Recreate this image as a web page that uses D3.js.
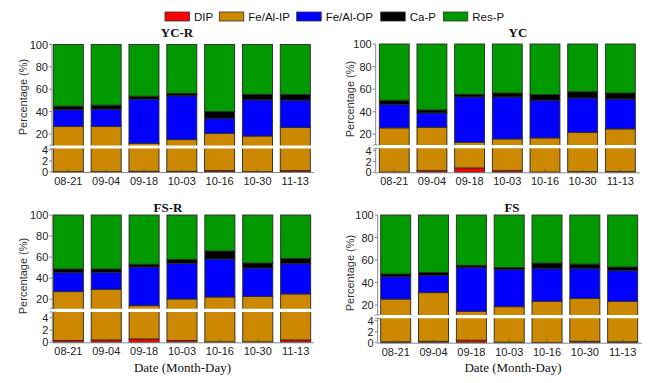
<!DOCTYPE html>
<html><head><meta charset="utf-8">
<script src="https://cdn.jsdelivr.net/npm/d3@7"></script>
<style>body{margin:0;background:#fff}svg{display:block}</style>
</head><body>
<svg id="c" width="659" height="383"></svg>
<script>
// ---------------- DATA ----------------
const dates = ["08-21","09-04","09-18","10-03","10-16","10-30","11-13"];
const seriesNames = ["DIP","Fe/Al-IP","Fe/Al-OP","Ca-P","Res-P"];
const panelNames = ["YC-R","YC","FS-R","FS"];
const upperTicks = [20,40,60,80,100];
const lowerTicks = [0,2,4];

// percentages per fraction, one array per panel and series
const dipYCR   = [0.05, 0.05, 0.12, 0.12, 0.25, 0.05, 0.25];
const feIpYCR  = [26.75, 26.75, 11.58, 14.88, 20.35, 18.15, 25.65];
const feOpYCR  = [14.8, 15.4, 39.4, 39.1, 13.3, 32.3, 24.3];
const caYCR    = [3.3, 3.6, 2.7, 2.3, 6.2, 5.1, 5.1];
const resYCR   = [55.1, 54.2, 46.2, 43.6, 59.9, 44.4, 44.7];

const dipYC    = [0.05, 0.3, 0.8, 0.3, 0.05, 0.12, 0.12];
const feIpYC   = [25.65, 26.0, 12.2, 15.6, 16.75, 21.68, 24.68];
const feOpYC   = [20.6, 12.6, 40.1, 37.2, 33.1, 30.4, 26.5];
const caYC     = [3.8, 2.7, 2.4, 3.5, 5.3, 5.6, 5.3];
const resYC    = [49.9, 58.4, 44.5, 43.4, 44.8, 42.2, 43.4];

const dipFSR   = [0.3, 0.38, 0.55, 0.3, 0.08, 0.08, 0.38];
const feIpFSR  = [27.0, 29.12, 13.45, 20.0, 22.12, 22.72, 24.72];
const feOpFSR  = [18.0, 16.1, 36.7, 33.9, 36.1, 26.9, 28.7];
const caFSR    = [3.5, 3.2, 2.5, 3.5, 7.6, 4.8, 5.1];
const resFSR   = [51.2, 51.2, 46.8, 42.3, 34.1, 45.5, 41.1];

const dipFS    = [0.15, 0.25, 0.45, 0.1, 0.05, 0.25, 0.15];
const feIpFS   = [25.15, 30.75, 13.95, 18.4, 23.25, 25.65, 23.15];
const feOpFS   = [19.9, 15.4, 38.8, 32.9, 29.0, 26.4, 27.2];
const caFS     = [2.4, 2.6, 2.1, 1.9, 5.0, 4.1, 3.3];
const resFS    = [52.4, 51.0, 44.7, 46.7, 42.7, 43.6, 46.2];

const panelSeries = {
  "YC-R": [dipYCR, feIpYCR, feOpYCR, caYCR, resYCR],
  "YC":   [dipYC, feIpYC, feOpYC, caYC, resYC],
  "FS-R": [dipFSR, feIpFSR, feOpFSR, caFSR, resFSR],
  "FS":   [dipFS, feIpFS, feOpFS, caFS, resFS]
};

// ---------------- STYLE / LAYOUT ----------------
const colors = ["#ff0000","#cc8800","#0000ff","#000000","#009900"];
const layout = {
  "YC-R": {axisX:52, barStart:53.3, barEnd:310.3, xEnd:314, y100:44.5, y20:134, breakY:147, y4:150, y0:172, titleX:177, titleY:37, ylabX:23, ylabY:97, tickY:185},
  "YC":   {axisX:375.7, barStart:379.3, barEnd:635.3, xEnd:640, y100:44, y20:134.3, breakY:146.7, y4:150.7, y0:172.3, titleX:518, titleY:37, ylabX:350, ylabY:99, tickY:185},
  "FS-R": {axisX:52.3, barStart:53.3, barEnd:310.7, xEnd:314, y100:215, y20:299.3, breakY:310.3, y4:317.7, y0:342.3, titleX:168, titleY:211.5, ylabX:23, ylabY:276, tickY:355},
  "FS":   {axisX:377.7, barStart:380.7, barEnd:637.7, xEnd:642, y100:215, y20:305, breakY:316.7, y4:320.7, y0:342.7, titleX:512, titleY:211.5, ylabX:350, ylabY:273, tickY:356}
};
const sans = "'Liberation Sans', Arial, sans-serif";
const serif = "'Liberation Serif', 'Times New Roman', serif";

const svg = d3.select("#c");

// ---------------- LEGEND ----------------
const legendX = [165, 219.3, 296.7, 380.7, 443.3];
const lg = svg.append("g");
seriesNames.forEach((n,i)=>{
  lg.append("rect").attr("x",legendX[i]).attr("y",12).attr("width",24.5).attr("height",9)
    .attr("fill",colors[i]).attr("stroke","#333").attr("stroke-width",0.8);
  lg.append("text").attr("x",legendX[i]+29).attr("y",20.5).text(n)
    .attr("font-family",sans).attr("font-size",11.5).attr("fill","#111");
});

// ---------------- PANELS ----------------
panelNames.forEach((pn, pi)=>{
  const L = layout[pn];
  const arrs = panelSeries[pn];
  const rows = dates.map((d,i)=>{
    const r = {date:d};
    seriesNames.forEach((s,k)=> r[s] = arrs[k][i]);
    return r;
  });
  const stacked = d3.stack().keys(seriesNames)(rows);

  const x = d3.scaleBand().domain(dates).range([L.barStart, L.barEnd]).paddingInner(0.206).paddingOuter(0);
  const yU = d3.scaleLinear().domain([20,100]).range([L.y20, L.y100]);
  const yL = d3.scaleLinear().domain([0,4]).range([L.y0, L.y4]);

  const g = svg.append("g");
  const gap = 1.6;
  const clipU = "clipU"+pi, clipL = "clipL"+pi;
  const defs = svg.append("defs");
  defs.append("clipPath").attr("id",clipU).append("rect")
    .attr("x",0).attr("y",L.y100-2).attr("width",659).attr("height",L.breakY-gap-(L.y100-2));
  defs.append("clipPath").attr("id",clipL).append("rect")
    .attr("x",0).attr("y",L.breakY+gap).attr("width",659).attr("height",L.y0+1-(L.breakY+gap));

  [[yU,clipU],[yL,clipL]].forEach(([ys,cid])=>{
    const gg = g.append("g").attr("clip-path",`url(#${cid})`);
    stacked.forEach((layer,k)=>{
      gg.selectAll(null).data(layer).enter().append("rect")
        .attr("x", d=>x(d.data.date))
        .attr("width", x.bandwidth())
        .attr("y", d=>ys(d[1]))
        .attr("height", d=>Math.max(0, ys(d[0])-ys(d[1])))
        .attr("fill", colors[k])
        .attr("stroke","#2a2a2a").attr("stroke-width",0.9);
    });
  });

  // y axes
  const axisCol = "#888";
  const ax = g.append("g");
  ax.append("line").attr("x1",L.axisX).attr("x2",L.axisX).attr("y1",L.y100).attr("y2",L.breakY-gap)
    .attr("stroke",axisCol).attr("stroke-width",1);
  ax.append("line").attr("x1",L.axisX).attr("x2",L.axisX).attr("y1",L.breakY+gap).attr("y2",L.y0)
    .attr("stroke",axisCol).attr("stroke-width",1);
  // break marks
  [-1.8, 1.8].forEach(o=>{
    ax.append("path").attr("d",`M${L.axisX-3},${L.breakY+o+1} q1.5,-2.5 3,-1 t3,-1`)
      .attr("fill","none").attr("stroke","#777").attr("stroke-width",0.8);
  });
  upperTicks.forEach(t=>{
    ax.append("line").attr("x1",L.axisX-3).attr("x2",L.axisX).attr("y1",yU(t)).attr("y2",yU(t)).attr("stroke",axisCol);
    ax.append("text").attr("x",L.axisX-4).attr("y",yU(t)+4).attr("text-anchor","end")
      .attr("font-family",sans).attr("font-size",11).attr("fill","#222").text(t);
  });
  lowerTicks.forEach(t=>{
    ax.append("line").attr("x1",L.axisX-3).attr("x2",L.axisX).attr("y1",yL(t)).attr("y2",yL(t)).attr("stroke",axisCol);
    ax.append("text").attr("x",L.axisX-4).attr("y",yL(t)+4).attr("text-anchor","end")
      .attr("font-family",sans).attr("font-size",11).attr("fill","#222").text(t);
  });

  // x axis
  ax.append("line").attr("x1",L.axisX).attr("x2",L.xEnd).attr("y1",L.y0+0.5).attr("y2",L.y0+0.5)
    .attr("stroke",axisCol).attr("stroke-width",1);
  dates.forEach(d=>{
    const cx = x(d)+x.bandwidth()/2;
    ax.append("line").attr("x1",cx).attr("x2",cx).attr("y1",L.y0).attr("y2",L.y0-3).attr("stroke","#555").attr("stroke-width",0.8);
    ax.append("text").attr("x",cx).attr("y",L.tickY).attr("text-anchor","middle")
      .attr("font-family",sans).attr("font-size",11).attr("fill","#222").text(d);
  });

  // title
  g.append("text").attr("x",L.titleX).attr("y",L.titleY).attr("text-anchor","middle")
    .attr("font-family",serif).attr("font-weight","bold").attr("font-size",13).attr("fill","#111").text(pn);
  // y label
  g.append("text").attr("transform",`translate(${L.ylabX+4},${L.ylabY}) rotate(-90)`)
    .attr("text-anchor","middle").attr("font-family",sans).attr("font-size",11).attr("fill","#333")
    .text("Percentage (%)");
  // x label (bottom row)
  if (pi >= 2) {
    g.append("text").attr("x", pi===2 ? 182.5 : 513).attr("y",372).attr("text-anchor","middle")
      .attr("font-family",serif).attr("font-size",13).attr("fill","#111").text("Date (Month-Day)");
  }
});
</script>
</body></html>
